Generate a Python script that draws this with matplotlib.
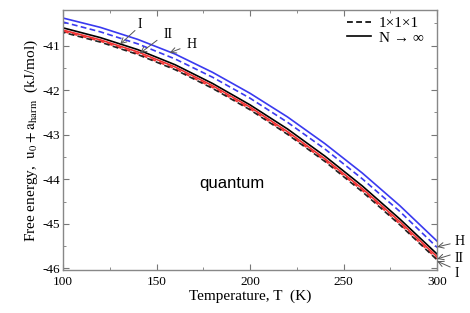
import matplotlib
matplotlib.use("Agg")
import matplotlib.pyplot as plt
from matplotlib.lines import Line2D

# ---- data ----
T = [100, 120, 140, 160, 180, 200, 220, 240, 260, 280, 300]
H_inf = [-40.38, -40.59, -40.86, -41.19, -41.60, -42.07, -42.60, -43.20, -43.86, -44.59, -45.39]
H_111 = [-40.47, -40.69, -40.96, -41.30, -41.71, -42.18, -42.72, -43.32, -43.99, -44.72, -45.53]
I_inf = [-40.60, -40.82, -41.09, -41.43, -41.85, -42.33, -42.87, -43.48, -44.15, -44.89, -45.68]
II_inf = [-40.65, -40.87, -41.14, -41.48, -41.90, -42.38, -42.93, -43.54, -44.21, -44.95, -45.74]
II_111 = [-40.68, -40.90, -41.18, -41.52, -41.94, -42.42, -42.97, -43.58, -44.25, -45.00, -45.79]
I_111 = [-40.70, -40.92, -41.20, -41.54, -41.96, -42.44, -42.99, -43.60, -44.28, -45.02, -45.81]

xticks = [100, 150, 200, 250, 300]
yticks = [-46, -45, -44, -43, -42, -41]
legend_labels = ["1\u00d71\u00d71", "N \u2192 \u221e"]

plt.rcParams['font.family'] = ['Liberation Serif', 'DejaVu Serif']
plt.rcParams['mathtext.fontset'] = 'stix'

fig = plt.figure(figsize=(4.7, 3.13), dpi=100)
ax = fig.add_axes([0.134, 0.137, 0.796, 0.831])

blue = '#3a3af0'
red = '#f03030'
lw = 1.2
dash = (3.5, 2.0)

ax.plot(T, H_inf, color=blue, lw=lw)
ax.plot(T, H_111, color=blue, lw=lw, ls=(0, dash))
ax.plot(T, II_111, color=red, lw=lw, ls=(0, dash))
ax.plot(T, I_111, color='#222222', lw=lw, ls=(2.0, dash))
ax.plot(T, I_inf, color='black', lw=lw)
ax.plot(T, II_inf, color=red, lw=lw)

ax.set_xlim(100, 300)
ax.set_ylim(-46.04, -40.2)
ax.set_xticks(xticks)
ax.set_yticks(yticks)
ax.set_xticks([125, 175, 225, 275], minor=True)
ax.set_yticks([-45.5, -44.5, -43.5, -42.5, -41.5, -40.5], minor=True)
ax.set_yticklabels([str(v) for v in yticks])
ax.tick_params(which='both', direction='in', top=True, right=True,
               labelsize=9.5, color='#777777')
ax.tick_params(axis='x', pad=4)
ax.tick_params(axis='y', pad=2)
ax.tick_params(which='major', length=4)
ax.tick_params(which='minor', length=2)
for s in ax.spines.values():
    s.set_color('#888888')
    s.set_linewidth(1.0)

ax.set_xlabel('Temperature, T  (K)', fontsize=11, labelpad=1)
ax.set_ylabel(r'Free energy,  $\mathrm{u_0 + a_{harm}}$  (kJ/mol)', fontsize=11, labelpad=2)

ax.text(190.5, -44.09, 'quantum', family='Liberation Sans', fontsize=12,
        ha='center', va='center')

arrow = dict(arrowstyle='->', color='#555555', lw=0.7, shrinkA=0, shrinkB=0)
ann = [
    ('I', (140.1, -40.53), (138.5, -40.66), (130.5, -40.97)),
    ('II', (153.5, -40.76), (150.3, -40.88), (141.2, -41.17)),
    ('H', (166.0, -40.98), (162.6, -41.07), (157.0, -41.16)),
    ('H', (309.5, -45.40), (307.0, -45.45), (300.0, -45.52)),
    ('II', (309.5, -45.77), (307.0, -45.70), (300.0, -45.79)),
    ('I', (309.5, -46.12), (307.0, -45.97), (300.0, -45.84)),
]
for lab, tpos, tail, head in ann:
    ax.text(tpos[0], tpos[1], lab, fontsize=10, ha='left', va='center', clip_on=False)
    ax.annotate('', xy=head, xytext=tail, arrowprops=arrow, annotation_clip=False)

handles = [Line2D([], [], color='black', lw=lw, ls=(0, dash)),
           Line2D([], [], color='black', lw=lw)]
ax.legend(handles, legend_labels, loc='upper right', bbox_to_anchor=(0.965, 0.975),
          frameon=False, fontsize=11, handlelength=1.6, handletextpad=0.5,
          labelspacing=0.05, borderpad=0, borderaxespad=0)

fig.savefig('out.png', dpi=100)
